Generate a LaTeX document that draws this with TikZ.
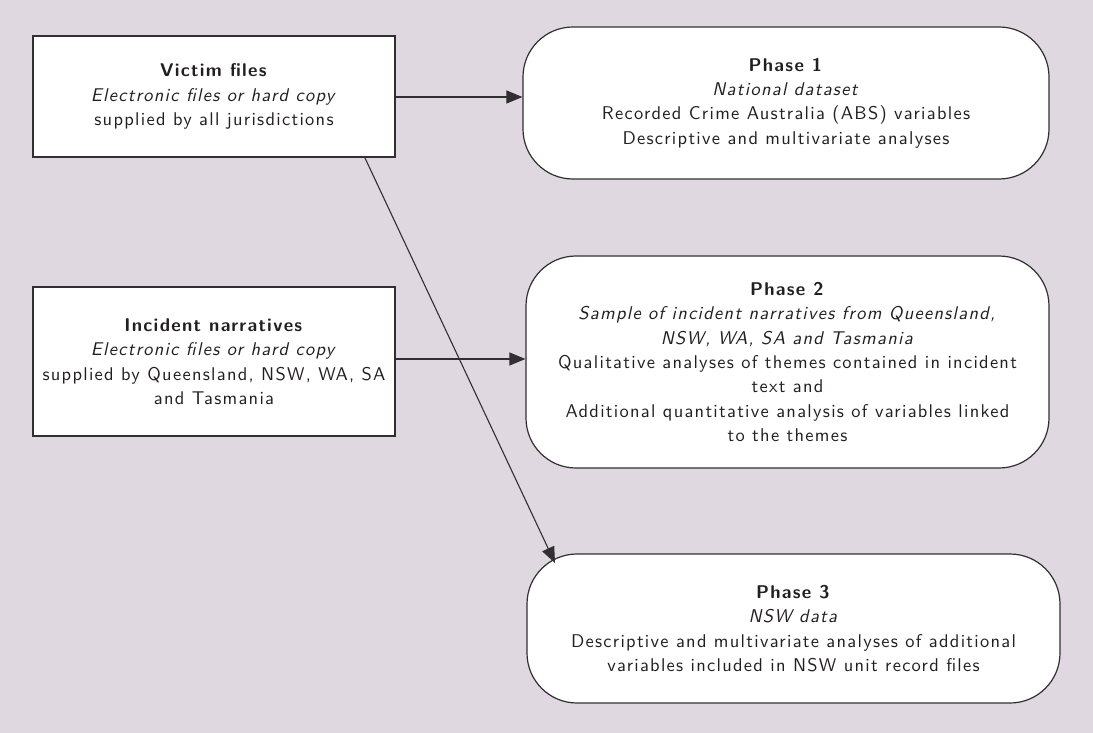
\documentclass[tikz,border=0pt]{standalone}
\usepackage{fontspec}
\setsansfont{lmsans10-regular.otf}[
  BoldFont=lmsans10-bold.otf,
  ItalicFont=lmsans10-oblique.otf,
  LetterSpace=7]
\usetikzlibrary{arrows.meta}
\definecolor{bg}{RGB}{224,216,224}
\definecolor{ink}{RGB}{35,31,32}
\definecolor{edge}{RGB}{50,47,50}
\begin{document}
\begin{tikzpicture}[x=1bp,y=-1bp,
  every node/.style={font=\sffamily\fontsize{18.5}{24.5}\selectfont,
    text=ink, align=center, inner sep=0pt},
  srcbox/.style={draw=edge, line width=1.4bp, fill=white,
    minimum width=362bp},
  phasebox/.style={draw=edge, line width=1.2bp, fill=white,
    rounded corners=50bp},
  flow/.style={draw=edge, line width=1.1bp,
    -{Triangle[length=16bp,width=13bp]}}
]
% page and background
\fill[bg] (0,0) rectangle (1093,733);
\useasboundingbox (0,0) rectangle (1093,733);

% data sources
\node[srcbox, minimum height=121bp] (vic) at (214,96.5)
  {\textbf{Victim files}\\
   \textit{Electronic files or hard copy}\\
   supplied by all jurisdictions};
\node[srcbox, minimum height=149bp] (inc) at (214,361.5)
  {\textbf{Incident narratives}\\
   \textit{Electronic files or hard copy}\\
   supplied by Queensland, NSW, WA, SA\\
   and Tasmania};

% analysis phases
\node[phasebox, minimum width=526bp, minimum height=152bp] (p1) at (786,103)
  {\textbf{Phase 1}\\
   \textit{National dataset}\\
   Recorded Crime Australia (ABS) variables\\
   Descriptive and multivariate analyses};
\node[phasebox, minimum width=523bp, minimum height=212bp] (p2) at (787.5,362)
  {\textbf{Phase 2}\\
   \textit{Sample of incident narratives from Queensland,}\\
   \textit{NSW, WA, SA and Tasmania}\\
   Qualitative analyses of themes contained in incident\\
   text and\\
   Additional quantitative analysis of variables linked\\
   to the themes};
\node[phasebox, minimum width=533bp, minimum height=149bp] (p3) at (793.5,628.5)
  {\textbf{Phase 3}\\
   \textit{NSW data}\\
   Descriptive and multivariate analyses of additional\\
   variables included in NSW unit record files};

% connectors
\coordinate (vicout) at (365,158);
\coordinate (p3in) at (555,563);
\draw[flow] (vic.east |- 0,97) -- (p1.west |- 0,97);
\draw[flow] (inc.east |- 0,359) -- (p2.west |- 0,359);
\draw[flow] (vicout) -- (p3in);
\end{tikzpicture}
\end{document}
